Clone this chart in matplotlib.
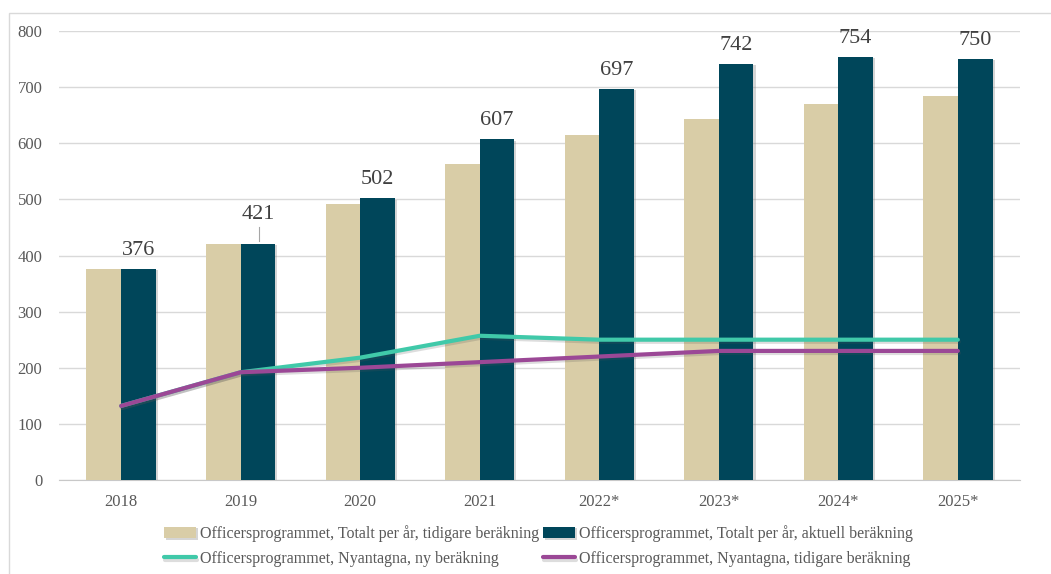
import numpy as np
import matplotlib
matplotlib.use("Agg")
import matplotlib.pyplot as plt
import matplotlib.patheffects as pe
from matplotlib.patches import Rectangle

plt.rcParams['font.family'] = ['Liberation Serif', 'DejaVu Serif']

# data
years = ["2018", "2019", "2020", "2021", "2022*", "2023*", "2024*", "2025*"]
totalt_tidigare = [376, 421, 492, 563, 615, 644, 670, 684]
totalt_aktuell = [376, 421, 502, 607, 697, 742, 754, 750]
nyantagna_ny = [132, 192, 218, 257, 250, 250, 250, 250]
nyantagna_tidigare = [132, 192, 200, 210, 220, 230, 230, 230]

lbl_tan = "Officersprogrammet, Totalt per år, tidigare beräkning"
lbl_dark = "Officersprogrammet, Totalt per år, aktuell beräkning"
lbl_teal = "Officersprogrammet, Nyantagna, ny beräkning"
lbl_purple = "Officersprogrammet, Nyantagna, tidigare beräkning"

c_tan = "#D9CDA7"
c_dark = "#00465A"
c_teal = "#40C9A9"
c_purple = "#9B4896"
c_text = "#595959"

W, H = 1051, 574
fig = plt.figure(figsize=(W / 100, H / 100), dpi=100)
# light frame round the chart area
fig.patches.append(Rectangle((9 / W, -0.1), 1.2, 1 - 13 / H + 0.1,
                             transform=fig.transFigure, fill=False,
                             edgecolor="#d9d9d9", lw=1))
ax = fig.add_axes([59 / W, 1 - 480 / H, (1020 - 59) / W, (480 - 31) / H])

x = np.arange(len(years))
bw = 0.29
shadow = [pe.SimplePatchShadow(offset=(1.5, -1), shadow_rgbFace="#888888", alpha=0.35), pe.Normal()]
b1 = ax.bar(x - bw / 2, totalt_tidigare, bw, color=c_tan, label=lbl_tan, zorder=3)
b2 = ax.bar(x + bw / 2, totalt_aktuell, bw, color=c_dark, label=lbl_dark, zorder=3)
for b in list(b1) + list(b2):
    b.set_path_effects(shadow)

lshadow = [pe.SimpleLineShadow(offset=(0.8, -1.5), shadow_color="#555555", alpha=0.2), pe.Normal()]
l1, = ax.plot(x, nyantagna_ny, color=c_teal, lw=3, label=lbl_teal, zorder=4,
              solid_capstyle="round", path_effects=lshadow)
l2, = ax.plot(x, nyantagna_tidigare, color=c_purple, lw=3, label=lbl_purple, zorder=5,
              solid_capstyle="round", path_effects=lshadow)

# value labels above the dark bars
for i, v in enumerate(totalt_aktuell):
    if years[i] == "2019":
        ax.plot([x[i] + bw / 2 + 0.01] * 2, [v + 4, v + 30], color="#a6a6a6", lw=0.8, zorder=3)
        ax.text(x[i] + bw / 2, v + 36, str(v), ha="center", va="bottom",
                fontsize=16, color="#404040")
    else:
        ax.text(x[i] + bw / 2, v + 16, str(v), ha="center", va="bottom",
                fontsize=16, color="#404040")

ax.set_xlim(-0.52, len(years) - 0.48)
ax.set_ylim(0, 800)
ax.set_yticks(range(0, 801, 100))
ax.set_xticks(x)
ax.set_xticklabels(years)
ax.yaxis.grid(True, color="#d9d9d9", lw=1)
ax.set_axisbelow(True)
for s in ["top", "right", "left"]:
    ax.spines[s].set_visible(False)
ax.spines["bottom"].set_color("#c8c8c8")
ax.tick_params(axis="both", length=0, labelsize=12, colors=c_text)
ax.tick_params(axis="y", pad=12)
ax.tick_params(axis="x", pad=10)

leg = fig.legend([b1, l1, b2, l2], [lbl_tan, lbl_teal, lbl_dark, lbl_purple],
                 ncol=2, loc="upper left", bbox_to_anchor=(150 / W, 1 - 511 / H),
                 frameon=False, fontsize=11.5, handlelength=2.0, handletextpad=0.25,
                 columnspacing=0.2, labelspacing=0.55, labelcolor=c_text)

fig.savefig("out.png", dpi=100)
